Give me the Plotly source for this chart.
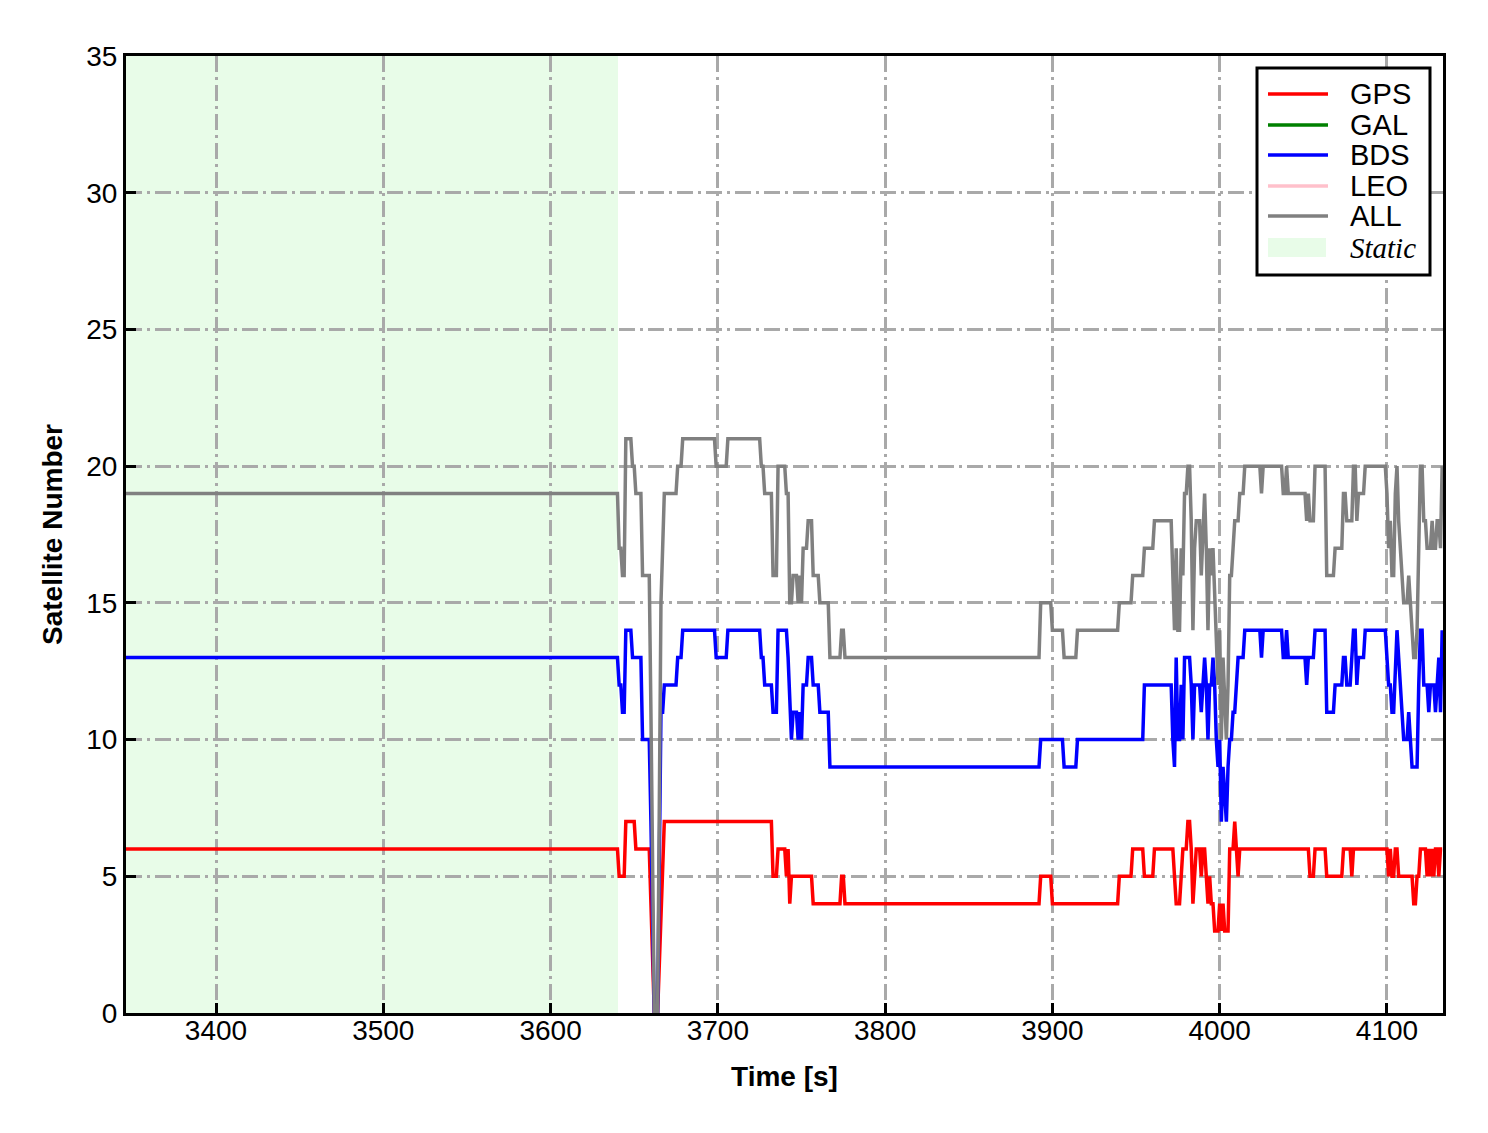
import plotly.graph_objects as go

# ---- data: change times (s) and values held from that time until the next one ----
TIME = [3330, 3641, 3643, 3645, 3649, 3651, 3655, 3660, 3661, 3662, 3665, 3666, 3667, 3668,
        3676, 3679, 3699, 3706, 3726, 3728, 3733, 3736, 3741, 3742, 3743, 3744, 3745, 3748,
        3749, 3750, 3751, 3754, 3757, 3761, 3767, 3774, 3776, 3893, 3900, 3907, 3915, 3940,
        3948, 3955, 3961, 3972, 3973, 3974, 3975, 3977, 3978, 3979, 3981, 3983, 3984, 3985,
        3986, 3989, 3990, 3991, 3992, 3993, 3994, 3995, 3996, 3997, 3998, 3999, 4000, 4001,
        4002, 4003, 4004, 4005, 4006, 4008, 4009, 4010, 4011, 4012, 4015, 4025, 4026, 4038,
        4040, 4041, 4052, 4053, 4054, 4057, 4064, 4069, 4074, 4076, 4079, 4080, 4082, 4083,
        4087, 4100, 4101, 4102, 4103, 4105, 4106, 4107, 4108, 4109, 4110, 4113, 4114, 4115,
        4116, 4118, 4119, 4120, 4122, 4124, 4125, 4126, 4127, 4128, 4129, 4130, 4131, 4132,
        4133]
GPS = [6, 5, 5, 7, 7, 6, 6, 4, 2, 0, 2, 4, 6, 7,
       7, 7, 7, 7, 7, 7, 5, 6, 5, 6, 4, 5, 5, 5,
       5, 5, 5, 5, 4, 4, 4, 5, 4, 5, 4, 4, 4, 5,
       6, 5, 6, 6, 5, 4, 4, 5, 6, 6, 7, 6, 4, 5,
       6, 5, 6, 6, 5, 4, 5, 4, 4, 3, 3, 3, 4, 3,
       4, 3, 3, 3, 6, 6, 7, 6, 5, 6, 6, 6, 6, 6,
       6, 6, 6, 6, 5, 6, 5, 5, 6, 6, 5, 6, 6, 6,
       6, 6, 5, 6, 5, 6, 6, 5, 5, 5, 5, 5, 5, 5,
       4, 5, 5, 6, 6, 5, 6, 5, 6, 5, 6, 6, 5, 6,
       6]
BDS = [13, 12, 11, 14, 13, 13, 10, 7, 3, 0, 5, 11, 11, 12,
       13, 14, 13, 14, 13, 12, 11, 14, 14, 13, 11, 10, 11, 10,
       11, 10, 12, 13, 12, 11, 9, 9, 9, 10, 10, 9, 10, 10,
       10, 12, 12, 10, 9, 13, 10, 12, 10, 13, 13, 12, 10, 12,
       12, 11, 12, 13, 12, 10, 12, 12, 13, 12, 10, 9, 10, 7,
       9, 8, 7, 9, 10, 11, 11, 12, 13, 13, 14, 13, 14, 13,
       14, 13, 12, 13, 13, 14, 11, 12, 13, 12, 13, 14, 12, 13,
       14, 13, 12, 12, 11, 13, 14, 13, 12, 11, 10, 11, 10, 9,
       9, 9, 12, 14, 12, 12, 11, 12, 12, 12, 11, 12, 13, 11,
       14]
ALL = [19, 17, 16, 21, 20, 19, 16, 11, 5, 0, 7, 15, 17, 19,
       20, 21, 20, 21, 20, 19, 16, 20, 19, 19, 15, 15, 16, 15,
       16, 15, 17, 18, 16, 15, 13, 14, 13, 15, 14, 13, 14, 15,
       16, 17, 18, 16, 14, 17, 14, 17, 16, 19, 20, 18, 14, 17,
       18, 16, 18, 19, 17, 14, 17, 16, 17, 15, 13, 12, 14, 10,
       13, 11, 10, 12, 16, 17, 18, 18, 18, 19, 20, 19, 20, 19,
       20, 19, 18, 19, 18, 20, 16, 17, 19, 18, 18, 20, 18, 19,
       20, 19, 17, 18, 16, 19, 20, 18, 17, 16, 15, 16, 15, 14,
       13, 14, 17, 20, 18, 17, 17, 17, 18, 17, 17, 18, 18, 17,
       20]
GAL = []
LEO = []
T_END = 4134
STATIC_END = 3640.3

X_TICKS = [3400, 3500, 3600, 3700, 3800, 3900, 4000, 4100]
Y_TICKS = [0, 5, 10, 15, 20, 25, 30, 35]
X_RANGE = [3346.2, 4133.5]
Y_RANGE = [0, 35]


def expand(times, vals, t_end):
    xs, ys = [], []
    for i, (t, v) in enumerate(zip(times, vals)):
        nxt = times[i + 1] if i + 1 < len(times) else t_end
        xs.append(t)
        ys.append(v)
        if nxt - 1 > t:
            xs.append(nxt - 1)
            ys.append(v)
    return xs, ys


FONT = "Liberation Sans, Arial, sans-serif"
series = [("GPS", GPS, "#ff0000"), ("GAL", GAL, "#008000"), ("BDS", BDS, "#0000ff"),
          ("LEO", LEO, "#ffc0cb"), ("ALL", ALL, "#808080")]

fig = go.Figure()
for name, vals, col in series:
    if vals:
        xs, ys = expand(TIME, vals, T_END)
    else:
        xs, ys = [], []
    fig.add_trace(go.Scatter(x=xs, y=ys, mode="lines", name=name,
                             line=dict(color=col, width=3.5), showlegend=False))

# static period shading
fig.add_shape(type="rect", xref="x", yref="paper", x0=3300, x1=STATIC_END, y0=0, y1=1,
              fillcolor="rgb(232,252,232)", line=dict(width=0), layer="below")

# page offset (browser body margin)
OFF = 8
# plot area in page pixels: x 126..1443, y 56..1013
L, R, T, B = 126, 1443, 56, 1013
W, H = 1488 - OFF, 1133 - OFF


def px(xp):
    return (xp - L) / (R - L)


def py(yp):
    return (B - yp) / (B - T)


# manual legend
fig.add_shape(type="rect", xref="paper", yref="paper", x0=px(1257), x1=px(1430),
              y0=py(275), y1=py(68), fillcolor="white", line=dict(color="black", width=3),
              layer="above")
rows = [94, 125, 155, 186, 216]
for (name, vals, col), ry in zip(series, rows):
    fig.add_shape(type="line", xref="paper", yref="paper", x0=px(1268), x1=px(1328),
                  y0=py(ry), y1=py(ry), line=dict(color=col, width=3.5), layer="above")
    fig.add_annotation(xref="paper", yref="paper", x=px(1348), y=py(ry), text=name,
                       showarrow=False, xanchor="left", yanchor="middle",
                       font=dict(family=FONT, size=29, color="black"))
fig.add_shape(type="rect", xref="paper", yref="paper", x0=px(1268), x1=px(1326),
              y0=py(257), y1=py(238), fillcolor="rgb(232,252,232)", line=dict(width=0),
              layer="above")
fig.add_annotation(xref="paper", yref="paper", x=px(1348), y=py(248), text="<i>Static</i>",
                   showarrow=False, xanchor="left", yanchor="middle",
                   font=dict(family="Liberation Serif, Times New Roman, serif", size=29,
                             color="black"))

GRID = dict(showgrid=True, gridcolor="#a9a9a9", gridwidth=2.5, griddash="16px,5px,3px,5px")

fig.update_xaxes(range=X_RANGE, tickvals=X_TICKS, ticktext=[str(v) for v in X_TICKS],
                 ticks="inside", ticklen=10, tickwidth=2.5, tickcolor="black",
                 showline=True, linecolor="black", linewidth=3, mirror=True,
                 zeroline=False, tickfont=dict(family=FONT, size=28, color="black"),
                 ticklabelstandoff=-10,
                 title=dict(text="<b>Time [s]</b>", font=dict(family=FONT, size=28, color="black"),
                            standoff=22),
                 **GRID)
fig.update_yaxes(range=Y_RANGE, tickvals=Y_TICKS, ticktext=[str(v) for v in Y_TICKS],
                 ticks="inside", ticklen=10, tickwidth=2.5, tickcolor="black",
                 showline=True, linecolor="black", linewidth=3, mirror=True,
                 zeroline=False, tickfont=dict(family=FONT, size=28, color="black"),
                 title=dict(text="<b>Satellite Number</b>",
                            font=dict(family=FONT, size=28, color="black"), standoff=16),
                 **GRID)

fig.update_layout(width=W, height=H,
                  margin=dict(l=L - OFF, r=(1488 - R), t=T - OFF, b=(1133 - B)),
                  paper_bgcolor="white", plot_bgcolor="white", showlegend=False)

fig.write_html("out.html")
